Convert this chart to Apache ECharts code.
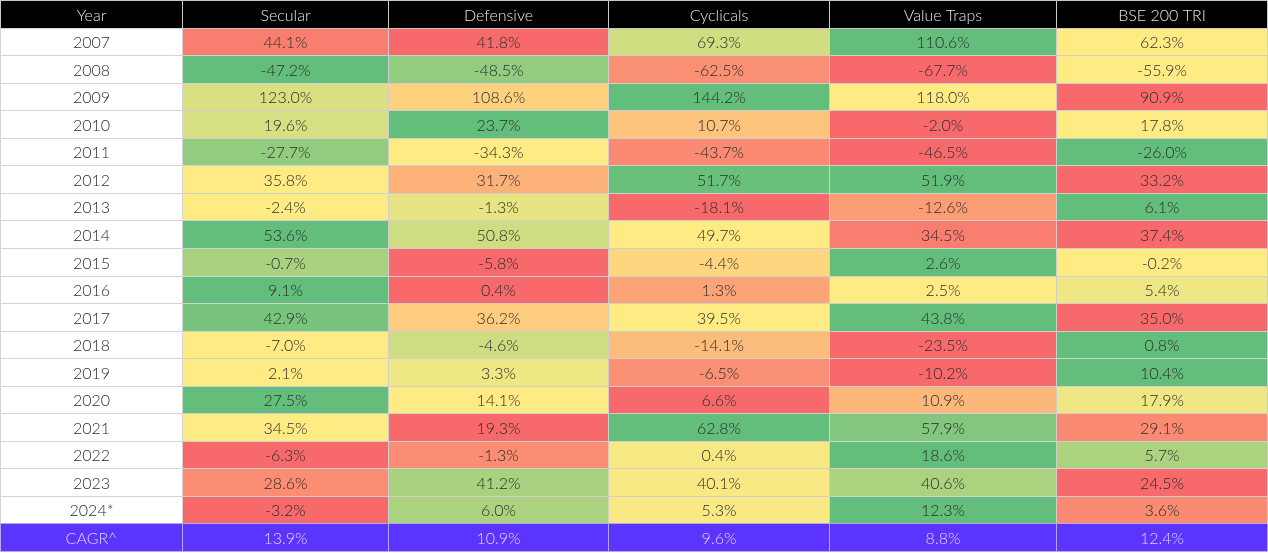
<!DOCTYPE html>
<html>
<head>
<meta charset="utf-8">
<script src="https://cdn.jsdelivr.net/npm/echarts@6/dist/echarts.min.js"></script>
<style>
html,body{margin:0;padding:0;background:#fff;}
#chart{width:1268px;height:553px;}
</style>
</head>
<body>
<div id="chart"></div>
<script>
// ---- data ----
const headerLabels = ['Year', 'Secular', 'Defensive', 'Cyclicals', 'Value Traps', 'BSE 200 TRI'];
const years = ['2007','2008','2009','2010','2011','2012','2013','2014','2015','2016','2017','2018','2019','2020','2021','2022','2023','2024*'];
const cagrLabel = 'CAGR^';

const secular    = [44.1, -47.2, 123.0, 19.6, -27.7, 35.8, -2.4, 53.6, -0.7, 9.1, 42.9, -7.0, 2.1, 27.5, 34.5, -6.3, 28.6, -3.2];
const defensive  = [41.8, -48.5, 108.6, 23.7, -34.3, 31.7, -1.3, 50.8, -5.8, 0.4, 36.2, -4.6, 3.3, 14.1, 19.3, -1.3, 41.2, 6.0];
const cyclicals  = [69.3, -62.5, 144.2, 10.7, -43.7, 51.7, -18.1, 49.7, -4.4, 1.3, 39.5, -14.1, -6.5, 6.6, 62.8, 0.4, 40.1, 5.3];
const valueTraps = [110.6, -67.7, 118.0, -2.0, -46.5, 51.9, -12.6, 34.5, 2.6, 2.5, 43.8, -23.5, -10.2, 10.9, 57.9, 18.6, 40.6, 12.3];
const bse200     = [62.3, -55.9, 90.9, 17.8, -26.0, 33.2, 6.1, 37.4, -0.2, 5.4, 35.0, 0.8, 10.4, 17.9, 29.1, 5.7, 24.5, 3.6];
const cagr       = [13.9, 10.9, 9.6, 8.8, 12.4];

// colour-scale score of each cell as shown in the picture (0 = red, 0.5 = yellow, 1 = green)
const secularHeat    = [0.08, 1, 0.62, 0.63, 0.85, 0.5, 0.5, 1, 0.78, 1, 0.93, 0.5, 0.5, 1, 0.5, 0, 0.14, 0];
const defensiveHeat  = [0, 0.85, 0.4, 1, 0.5, 0.28, 0.58, 0.66, 0, 0, 0.38, 0.66, 0.55, 0.5, 0, 0.14, 0.78, 0.77];
const cyclicalsHeat  = [0.65, 0.15, 1, 0.35, 0.13, 0.98, 0, 0.5, 0.42, 0.23, 0.5, 0.32, 0.15, 0, 1, 0.53, 0.52, 0.52];
const valueTrapsHeat = [1, 0, 0.5, 0, 0, 1, 0.2, 0.08, 1, 0.5, 1, 0, 0, 0.3, 0.9, 1, 0.77, 1];
const bse200Heat     = [0.5, 0.5, 0, 0.5, 1, 0, 1, 0, 0.5, 0.55, 0, 1, 1, 0.55, 0.13, 0.77, 0, 0.13];

// ---- layout ----
const colWidths = [182, 206, 220, 222, 227, 211];
const colEdges = [0];
colWidths.forEach(w => colEdges.push(colEdges[colEdges.length - 1] + w));
const rowCats = ['Year'].concat(years, [cagrLabel]);

const seriesValues = [secular, defensive, cyclicals, valueTraps, bse200];
const seriesHeat = [secularHeat, defensiveHeat, cyclicalsHeat, valueTrapsHeat, bse200Heat];

const cellData = [];
seriesValues.forEach((arr, s) => {
  arr.forEach((v, i) => {
    cellData.push([s + 1, i + 1, v, seriesHeat[s][i]]);
  });
});

// header row, year column, CAGR row
const frameData = [];
headerLabels.forEach((h, c) => frameData.push([c, 0, 0, 0]));   // kind 0: header
years.forEach((y, i) => frameData.push([0, i + 1, 1, i]));       // kind 1: year
frameData.push([0, years.length + 1, 2, -1]);                    // kind 2: CAGR label
cagr.forEach((v, s) => frameData.push([s + 1, years.length + 1, 2, s]));

const FONT = '300 16px Lato, "Open Sans", sans-serif';

function cellRect(api, c, r) {
  const a = api.coord([colEdges[c], r]);
  const b = api.coord([colEdges[c + 1], r]);
  const h = api.size([0, 1])[1];
  const x = Math.round(a[0]) + 0.5;
  const x2 = Math.round(b[0]) + 0.5;
  const y = Math.round(a[1] - h / 2) + 0.5;
  const y2 = Math.round(a[1] + h / 2) + 0.5;
  return { x: x, y: y, width: x2 - x, height: y2 - y, cx: (x + x2) / 2, cy: (y + y2) / 2 };
}

function renderCell(params, api) {
  const c = api.value(0), r = api.value(1), v = api.value(2);
  const R = cellRect(api, c, r);
  return {
    type: 'group',
    children: [
      { type: 'rect', shape: { x: R.x, y: R.y, width: R.width, height: R.height },
        style: { fill: api.visual('color'), stroke: '#cfcfcf', lineWidth: 1 } },
      { type: 'text', style: { text: v.toFixed(1) + '%', x: R.cx, y: R.cy + 1, align: 'center', verticalAlign: 'middle',
        font: FONT, fill: '#2b2b2b' } }
    ]
  };
}

function renderFrame(params, api) {
  const c = api.value(0), r = api.value(1), kind = api.value(2), idx = api.value(3);
  const R = cellRect(api, c, r);
  let fill, stroke, txtColor, text;
  if (kind === 0) {
    fill = '#000000'; stroke = '#c8c8c8'; txtColor = '#e4e4e4'; text = headerLabels[c];
  } else if (kind === 1) {
    fill = '#ffffff'; stroke = '#d4d4d4'; txtColor = '#2b2b2b'; text = years[idx];
  } else {
    fill = '#5b35ff'; stroke = '#b4a8e6'; txtColor = '#ddd6ff';
    text = idx < 0 ? cagrLabel : cagr[idx].toFixed(1) + '%';
  }
  return {
    type: 'group',
    children: [
      { type: 'rect', shape: { x: R.x, y: R.y, width: R.width, height: R.height },
        style: { fill: fill, stroke: stroke, lineWidth: 1 } },
      { type: 'text', style: { text: text, x: R.cx, y: R.cy + 1, align: 'center', verticalAlign: 'middle',
        font: FONT, fill: txtColor } }
    ]
  };
}

const chart = echarts.init(document.getElementById('chart'), null, { renderer: 'canvas' });
chart.setOption({
  animation: false,
  backgroundColor: '#ffffff',
  grid: { left: 0, right: 1, top: -1, bottom: 2, containLabel: false },
  xAxis: { type: 'value', min: 0, max: colEdges[colEdges.length - 1], show: false },
  yAxis: { type: 'category', data: rowCats, inverse: true, show: false },
  visualMap: {
    type: 'continuous', show: false, min: 0, max: 1, dimension: 3, seriesIndex: 0,
    inRange: { color: ['#F8696B', '#FFEB84', '#63BE7B'] }
  },
  series: [
    { type: 'custom', renderItem: renderCell, data: cellData, encode: { x: 0, y: 1 } },
    { type: 'custom', renderItem: renderFrame, data: frameData, encode: { x: 0, y: 1 } }
  ]
});
</script>
</body>
</html>
